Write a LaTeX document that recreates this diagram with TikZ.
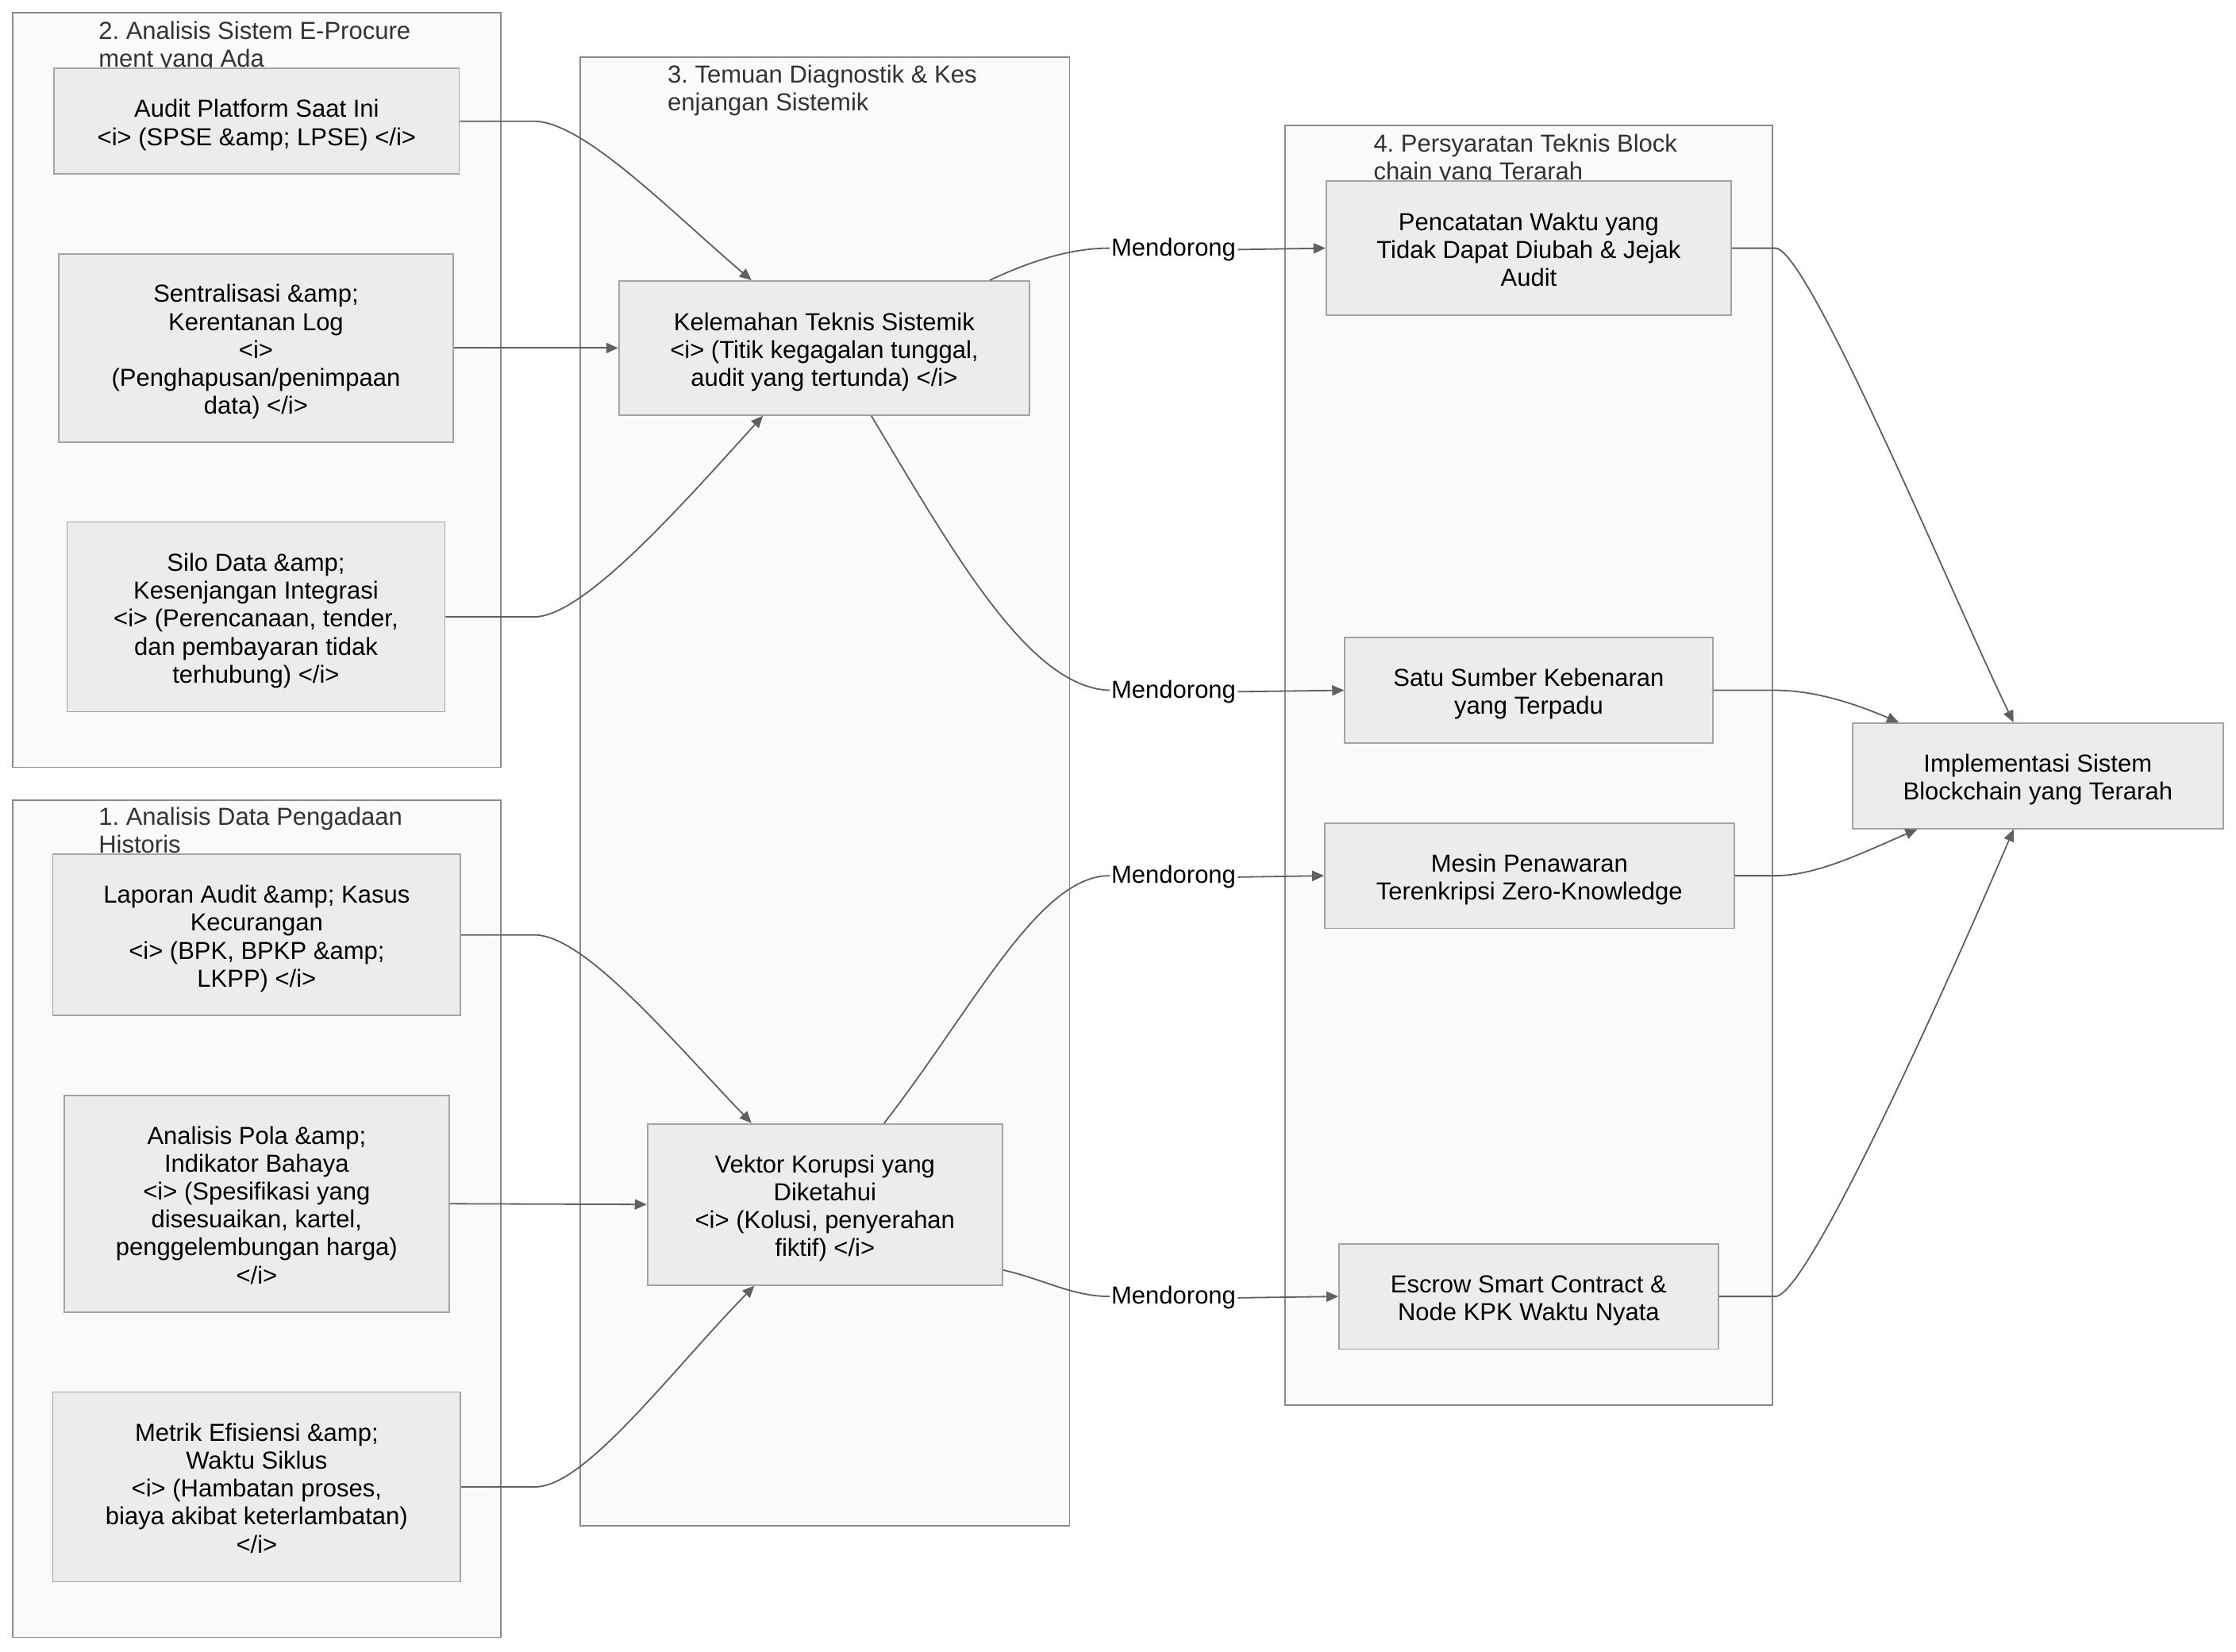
\documentclass[tikz,border=0pt]{standalone}
\usepackage{fontspec}
\setmainfont{Liberation Sans}
\frenchspacing
\usetikzlibrary{arrows.meta,calc}
\definecolor{edgec}{HTML}{606060}
\definecolor{nodef}{HTML}{ECECEC}
\definecolor{nodeb}{HTML}{A3A3A3}
\definecolor{clusf}{HTML}{FAFAFA}
\definecolor{clusb}{HTML}{8A8A8A}
\definecolor{titc}{HTML}{333333}
\newcommand\bxt[1]{\raisebox{-2.9pt}[\height][\depth]{\begin{tabular}{@{}c@{}}#1\end{tabular}}}
\begin{document}
\begin{tikzpicture}[x=0.8983pt,y=-0.8983pt,
  every node/.style={font=\fontsize{15.5}{17.6}\selectfont},
  box/.style 2 args={draw=nodeb, fill=nodef, line width=0.9pt,
    minimum width=#1*0.8983pt, minimum height=#2*0.8983pt,
    inner sep=0pt},
  clus/.style={draw=clusb, fill=clusf, line width=0.9pt},
  ctitle/.style={anchor=north west, inner sep=0pt, align=left, text=titc},
  lab/.style={inner sep=1pt, text=black},
  arr/.style={draw=edgec, line width=0.9pt, -{Triangle[length=7.5pt,width=6.5pt]}}]
\useasboundingbox (0,0) rectangle (1568,1158);
\fill[white] (0,0) rectangle (1568,1158);

% clusters
\draw[clus] (9,9) rectangle (351,538);
\draw[clus] (9,561) rectangle (351,1148);
\draw[clus] (407,40) rectangle (750,1070);
\draw[clus] (901,88) rectangle (1243,985);

\node[ctitle] (t2) at (69,14.6) {2. Analisis Sistem E-Procure\\ment yang Ada};
\node[ctitle] (t1) at (69,565.6) {1. Analisis Data Pengadaan\\Historis};
\node[ctitle] (t3) at (468,45.6) {3. Temuan Diagnostik \& Kes\\enjangan Sistemik};
\node[ctitle] (t4) at (963,93.6) {4. Persyaratan Teknis Block\\chain yang Terarah};

% nodes
\node[box={284}{74}] (A1) at (180,85) {\bxt{Audit Platform Saat Ini\\<i> (SPSE \&amp; LPSE) </i>}};
\node[box={277}{132}] (A2) at (179.5,244) {\bxt{Sentralisasi \&amp;\\Kerentanan Log\\<i>\\(Penghapusan/penimpaan\\data) </i>}};
\node[box={265}{133}] (A3) at (179.5,432.5) {\bxt{Silo Data \&amp;\\Kesenjangan Integrasi\\<i> (Perencanaan, tender,\\dan pembayaran tidak\\terhubung) </i>}};
\node[box={286}{113}] (B1) at (180,655.5) {\bxt{Laporan Audit \&amp; Kasus\\Kecurangan\\<i> (BPK, BPKP \&amp;\\LKPP) </i>}};
\node[box={270}{152}] (B2) at (180,844) {\bxt{Analisis Pola \&amp;\\Indikator Bahaya\\<i> (Spesifikasi yang\\disesuaikan, kartel,\\penggelembungan harga)\\</i>}};
\node[box={286}{133}] (B3) at (180,1042.5) {\bxt{Metrik Efisiensi \&amp;\\Waktu Siklus\\<i> (Hambatan proses,\\biaya akibat keterlambatan)\\</i>}};
\node[box={288}{94}] (C1) at (578,244) {\bxt{Kelemahan Teknis Sistemik\\<i> (Titik kegagalan tunggal,\\audit yang tertunda) </i>}};
\node[box={249}{113}] (C2) at (578.5,844.5) {\bxt{Vektor Korupsi yang\\Diketahui\\<i> (Kolusi, penyerahan\\fiktif) </i>}};
\node[box={284}{94}] (D1) at (1072,174) {\bxt{Pencatatan Waktu yang\\Tidak Dapat Diubah \& Jejak\\Audit}};
\node[box={258}{74}] (D2) at (1072,484) {\bxt{Satu Sumber Kebenaran\\yang Terpadu}};
\node[box={287}{74}] (D3) at (1072.5,614) {\bxt{Mesin Penawaran\\Terenkripsi Zero-Knowledge}};
\node[box={266}{74}] (D4) at (1072,909) {\bxt{Escrow Smart Contract \&\\Node KPK Waktu Nyata}};
\node[box={260}{74}] (E) at (1429,544) {\bxt{Implementasi Sistem\\Blockchain yang Terarah}};

% edge labels
\node[lab] (m1) at (823,175) {Mendorong};
\node[lab] (m2) at (823,485) {Mendorong};
\node[lab] (m3) at (823,615) {Mendorong};
\node[lab] (m4) at (823,910) {Mendorong};

% edges: inputs to findings
\draw[arr] (A1.east) -- (375,85) .. controls (410,86) and (470,148) .. ($(C1.north)+(-51,0)$);
\draw[arr] (A2.east) -- (C1.west);
\draw[arr] (A3.east) -- (375,432.5) .. controls (410,432) and (480,352) .. ($(C1.south)+(-43,0)$);
\draw[arr] (B1.east) -- (375,655.5) .. controls (410,656) and (470,728) .. ($(C2.north)+(-51.5,0)$);
\draw[arr] (B2.east) -- (C2.west);
\draw[arr] (B3.east) -- (375,1042.5) .. controls (410,1043) and (470,962) .. ($(C2.south)+(-49.5,0)$);

% findings to requirements
\draw[arr] ($(C1.north)+(116,0)$) .. controls (725,182) and (752,174) .. ($(m1.west)+(0,-1)$) (m1.east) -- (D1.west);
\draw[arr] ($(C1.south)+(33,0)$) .. controls (670,390) and (722,482) .. ($(m2.west)+(0,-1)$) (m2.east) -- (D2.west);
\draw[arr] ($(C2.north)+(41.5,0)$) .. controls (682,708) and (728,614) .. ($(m3.west)+(0,-1)$) (m3.east) -- (D3.west);
\draw[arr] ($(C2.south east)+(0,-11)$) .. controls (732,897) and (752,909) .. ($(m4.west)+(0,-1)$) (m4.east) -- (D4.west);

% requirements to result
\draw[arr] (D1.east) -- (1245,174) .. controls (1268,174) and (1370,420) .. ($(E.north)+(-17,0)$);
\draw[arr] (D2.east) -- (1245,484) .. controls (1272,484) and (1300,493) .. ($(E.north west)+(33,0)$);
\draw[arr] (D3.east) -- (1245,614) .. controls (1275,614) and (1310,596) .. ($(E.south west)+(46,0)$);
\draw[arr] (D4.east) -- (1245,909) .. controls (1268,909) and (1370,680) .. ($(E.south)+(-17,0)$);
\end{tikzpicture}
\end{document}
